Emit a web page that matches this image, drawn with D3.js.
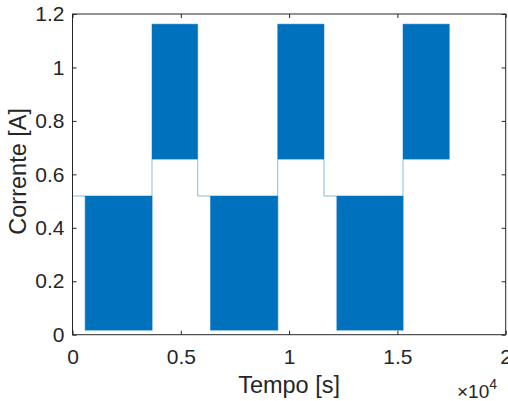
<!DOCTYPE html>
<html><head><meta charset="utf-8">
<script src="https://cdn.jsdelivr.net/npm/d3@7"></script>
<style>body{margin:0;background:#fff}svg{display:block}text{font-family:"Liberation Sans",Arial,Helvetica,sans-serif;fill:#262626}</style>
</head><body><div id="c"></div>
<script>
// Segments of the current signal: start time, end time, min, max (A)
const segStart = [0, 591, 3670, 5780, 6380, 9474, 11611, 12211, 15259];
const segEnd   = [591, 3670, 5780, 6380, 9474, 11611, 12211, 15259, 17396];
const segMin   = [0.519, 0.016, 0.656, 0.519, 0.016, 0.656, 0.519, 0.016, 0.656];
const segMax   = [0.519, 0.519, 1.162, 0.519, 0.519, 1.162, 0.519, 0.519, 1.162];
const xTicks = [0, 5000, 10000, 15000, 20000];
const xTickLabels = ["0", "0.5", "1", "1.5", "2"];
const yTicks = [0, 0.2, 0.4, 0.6, 0.8, 1, 1.2];
const yTickLabels = ["0", "0.2", "0.4", "0.6", "0.8", "1", "1.2"];

const W = 508, H = 401;
const L = 72.5, R = 505.7, T = 14, B = 334.7;
const svg = d3.select("#c").append("svg").attr("width", W).attr("height", H);
const x = d3.scaleLinear().domain([0, 20000]).range([L, R]);
const y = d3.scaleLinear().domain([0, 1.2]).range([B, T]);
const blue = "#0072BD";

const segs = segStart.map((s, i) => ({s, e: segEnd[i], lo: segMin[i], hi: segMax[i]}));

// filled oscillation blocks
svg.append("g").selectAll("rect").data(segs.filter(d => d.hi > d.lo)).join("rect")
  .attr("x", d => x(d.s)).attr("y", d => y(d.hi))
  .attr("width", d => x(d.e) - x(d.s)).attr("height", d => y(d.lo) - y(d.hi))
  .attr("fill", blue);

// signal outline
const pts = [];
segs.forEach(d => {
  pts.push([d.s, d.lo], [d.s, d.hi], [d.e, d.hi], [d.e, d.lo]);
});
const line = d3.line().x(d => x(d[0])).y(d => y(d[1]));
svg.append("path").attr("d", line(pts)).attr("fill", "none")
  .attr("stroke", blue).attr("stroke-width", 0.6).attr("stroke-opacity", 0.8);

// axes box
const ax = "#262626";
svg.append("rect").attr("x", L).attr("y", T).attr("width", R - L).attr("height", B - T)
  .attr("fill", "none").attr("stroke", ax).attr("stroke-width", 1);

const tl = 4;
const xb = d3.axisBottom(x).tickValues(xTicks).tickFormat((d, i) => xTickLabels[i]).tickSizeInner(-tl).tickSizeOuter(0).tickPadding(14);
const gx = svg.append("g").attr("transform", `translate(0,${B})`).call(xb);
const yl = d3.axisLeft(y).tickValues(yTicks).tickFormat((d, i) => yTickLabels[i]).tickSizeInner(-tl).tickSizeOuter(0).tickPadding(8);
const gy = svg.append("g").attr("transform", `translate(${L},0)`).call(yl);
const xt = d3.axisTop(x).tickValues(xTicks).tickFormat("").tickSizeInner(-tl).tickSizeOuter(0);
const gxt = svg.append("g").attr("transform", `translate(0,${T})`).call(xt);
const yr = d3.axisRight(y).tickValues(yTicks).tickFormat("").tickSizeInner(-tl).tickSizeOuter(0);
const gyr = svg.append("g").attr("transform", `translate(${R},0)`).call(yr);
[gx, gy, gxt, gyr].forEach(g => {
  g.select(".domain").remove();
  g.selectAll("line").attr("stroke", ax);
  g.selectAll("text").attr("font-size", 21).attr("fill", ax).style("font-family", '"Liberation Sans",Arial,sans-serif');
});

svg.append("text").attr("x", (L + R) / 2).attr("y", 393).attr("text-anchor", "middle")
  .attr("font-size", 23.5).text("Tempo [s]");
svg.append("text").attr("transform", `translate(26,${(T + B) / 2 - 3}) rotate(-90)`).attr("text-anchor", "middle")
  .attr("font-size", 23.5).text("Corrente [A]");
const ex = svg.append("text").attr("x", 457).attr("y", 398).attr("font-size", 19);
ex.append("tspan").text("\u00d710");
ex.append("tspan").attr("dy", -9).attr("font-size", 14).text("4");
</script></body></html>
